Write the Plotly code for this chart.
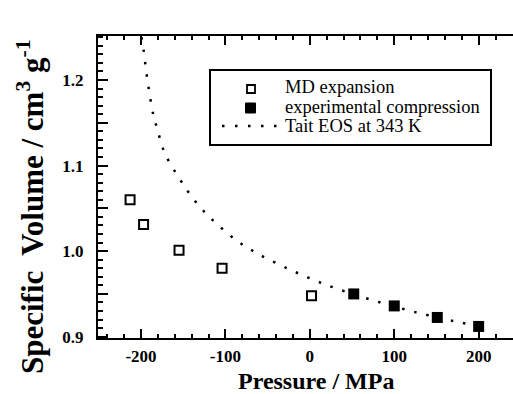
import plotly.graph_objects as go

# ---- data ----
md_pressure = [-213, -197, -155, -104, 2]
md_volume = [1.060, 1.031, 1.001, 0.980, 0.948]

exp_pressure = [52, 100, 151, 200]
exp_volume = [0.950, 0.936, 0.9225, 0.912]

tait_pressure = [-199.5, -197, -193, -185.4, -181.4, -171.6, -154, -144, -133,
                 -118, -89, -73, -56, -27, 3, 33.6, 80, 124, 169, 184, 200]
tait_volume = [1.250, 1.235, 1.204, 1.159, 1.145, 1.114, 1.084, 1.069, 1.055,
               1.039, 1.014, 1.0035, 0.994, 0.980, 0.967, 0.9556, 0.941, 0.929,
               0.9185, 0.9155, 0.912]

y_tickvals = [0.9, 1.0, 1.1, 1.2]
y_ticktext = ["0.9", "1.0", "1.1", "1.2"]
y_midticks = [0.95, 1.05, 1.15]
x_tickvals = [-200, -100, 0, 100, 200]
x_ticktext = ["-200", "-100", "0", "100", "200"]
y_range = [0.8985, 1.2514]
x_range = [-251, 240.7]

legend_labels = ["MD expansion", "experimental compression", "Tait EOS at 343 K"]
x_title = "Pressure / MPa"
y_title = "Specific  Volume / cm<sup>3</sup> g<sup>-1</sup>"

SERIF = "Liberation Serif"

fig = go.Figure()
fig.add_trace(go.Scatter(x=tait_pressure, y=tait_volume, mode="lines", yaxis="y2",
                         line=dict(color="black", width=2.5, dash="2.5px,10px", shape="spline"),
                         showlegend=False, hoverinfo="skip"))
fig.add_trace(go.Scatter(x=md_pressure, y=md_volume, mode="markers",
                         marker=dict(symbol="square-open", size=9, color="black",
                                     line=dict(width=2, color="black")),
                         showlegend=False))
fig.add_trace(go.Scatter(x=exp_pressure, y=exp_volume, mode="markers",
                         marker=dict(symbol="square", size=11, color="black"),
                         showlegend=False))

# plot area in pixels: x 98..513, y 36..338
L, R, T, B = 98, 513, 36, 338
W, H = R - L, B - T


def px(X):
    return (X - L) / W


def py(Y):
    return (B - Y) / H


shapes = [
    # legend box
    dict(type="rect", xref="paper", yref="paper", x0=px(210), x1=px(491), y0=py(145), y1=py(70),
         line=dict(color="black", width=2), fillcolor="white", layer="above"),
    # legend symbols
    dict(type="rect", xref="paper", yref="paper", x0=px(247), x1=px(255), y0=py(93), y1=py(85),
         line=dict(color="black", width=1.8), layer="above"),
    dict(type="rect", xref="paper", yref="paper", x0=px(245.5), x1=px(255.5), y0=py(113), y1=py(103),
         line=dict(color="black", width=1), fillcolor="black", layer="above"),
    dict(type="line", xref="paper", yref="paper", x0=px(222), x1=px(283), y0=py(126), y1=py(126),
         line=dict(color="black", width=2.5, dash="2.5px,10.5px"), layer="above"),
]

annotations = []
for lbl, yy in zip(legend_labels, [87, 106.5, 126]):
    annotations.append(dict(text=lbl, xref="paper", yref="paper", x=px(283), y=py(yy),
                            xanchor="left", yanchor="middle", showarrow=False,
                            font=dict(family=SERIF, size=18.5, color="black")))
annotations.append(dict(text=x_title, xref="paper", yref="paper", x=px(316), y=py(381),
                        xanchor="center", yanchor="middle", showarrow=False,
                        font=dict(family=SERIF, size=24, color="black", weight="bold")))
annotations.append(dict(text=y_title, xref="paper", yref="paper", x=px(30), y=py(207),
                        xanchor="center", yanchor="middle", showarrow=False, textangle=-90,
                        font=dict(family=SERIF, size=31, color="black", weight="bold")))

fig.update_layout(
    width=513, height=394,
    margin=dict(l=L, r=513 - R, t=T, b=394 - B),
    paper_bgcolor="white", plot_bgcolor="white",
    shapes=shapes, annotations=annotations,
    showlegend=False,
    xaxis=dict(range=x_range, showgrid=False, zeroline=False,
               showline=True, linecolor="black", linewidth=2, mirror="ticks",
               ticks="inside", ticklen=9, tickwidth=1.5, tickcolor="black",
               tickvals=x_tickvals, ticktext=x_ticktext,
               minor=dict(dtick=20, tick0=0, ticks="inside", ticklen=4, tickwidth=1.5, tickcolor="black"),
               tickfont=dict(family=SERIF, size=17, color="black", weight="bold"),
               ticklabelstandoff=2),
    yaxis=dict(range=y_range, showgrid=False, zeroline=False,
               showline=True, linecolor="black", linewidth=2, mirror=False,
               ticks="inside", ticklen=10, tickwidth=1.5, tickcolor="black",
               tickvals=y_tickvals, ticktext=y_ticktext,
               minor=dict(dtick=0.01, tick0=0.9, ticks="inside", ticklen=5, tickwidth=1.5, tickcolor="black"),
               tickfont=dict(family=SERIF, size=17, color="black", weight="bold"),
               ticklabelstandoff=9),
    yaxis2=dict(range=y_range, overlaying="y", anchor="x", side="left", showgrid=False, zeroline=False,
                showline=False, ticks="inside", ticklen=10, tickwidth=1.5, tickcolor="black",
                tickmode="array", tickvals=y_midticks, showticklabels=False),
)

fig.write_html("out.html")
